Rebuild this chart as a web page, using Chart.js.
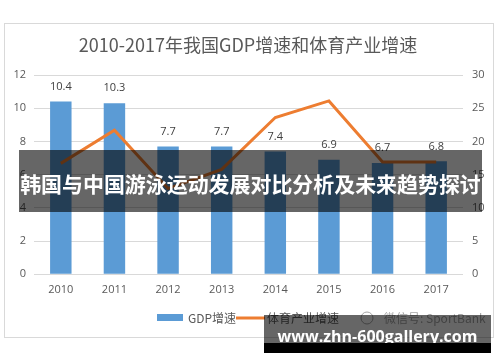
<!DOCTYPE html>
<html>
<head>
<meta charset="utf-8">
<script src="https://cdn.jsdelivr.net/npm/chart.js@4.4.1/dist/chart.umd.min.js"></script>
<style>
  html,body{margin:0;padding:0;background:#fff;}
  #wrap{position:relative;width:500px;height:362px;overflow:hidden;}
  #c{position:absolute;left:0;top:0;}
  .banner{position:absolute;left:19px;top:150px;width:463px;height:62px;background:rgba(0,0,0,0.6);
    color:#fff;font:bold 21px "Noto Sans CJK SC",sans-serif;text-align:center;line-height:66px;white-space:nowrap;}
  .banner span{display:inline-block;}
  .wm{position:absolute;left:264px;top:315px;width:227px;height:28px;background:rgba(0,0,0,0.6);
    color:#fff;font:bold 16px "Open Sans","Noto Sans",sans-serif;text-align:center;line-height:42px;white-space:nowrap;}
  .wmb{position:absolute;left:264px;top:343px;width:227px;height:10px;background:#000;}
</style>
</head>
<body>
<div id="wrap">
  <canvas id="c" width="500" height="362"></canvas>
  <div class="banner"><span id="bt">韩国与中国游泳运动发展对比分析及未来趋势探讨</span></div>
  <div class="wm">www.zhn-600gallery.com</div>
  <div class="wmb"></div>
</div>
<script>
const years = ['2010','2011','2012','2013','2014','2015','2016','2017'];
const gdpGrowth = [10.4, 10.3, 7.7, 7.7, 7.4, 6.9, 6.7, 6.8];
const sportsGrowth = [16.7, 21.7, 12.9, 15.8, 23.6, 26.1, 16.9, 16.9];
const titleText = '2010-2017年我国GDP增速和体育产业增速';
const legendLabels = ['GDP增速', '体育产业增速'];
const wechatText = '微信号: SportBank';

// fit banner text to the banner width
(function(){
  const bt = document.getElementById('bt');
  const w = bt.getBoundingClientRect().width;
  const fs = 21 * 461 / w;
  bt.parentNode.style.fontSize = fs.toFixed(2) + 'px';
})();

const BLUE = '#5b9bd5', ORANGE = '#ed7d31', GRAY = '#595959';
const CJK = '"Noto Sans CJK SC", "Open Sans", sans-serif';

const decor = {
  id: 'decor',
  beforeDraw(chart) {
    const ctx = chart.ctx;
    ctx.save();
    ctx.fillStyle = '#fff';
    ctx.fillRect(0, 0, chart.width, chart.height);
    ctx.strokeStyle = '#d9d9d9';
    ctx.lineWidth = 1;
    ctx.strokeRect(4.5, 23.5, 489, 314);
    ctx.fillStyle = GRAY;
    ctx.font = '18px ' + CJK;
    ctx.textAlign = 'center';
    ctx.textBaseline = 'middle';
    ctx.fillText(titleText, 248, 45);
    ctx.restore();
  },
  afterDraw(chart) {
    const ctx = chart.ctx;
    ctx.save();
    const meta = chart.getDatasetMeta(0);
    ctx.fillStyle = '#404040';
    ctx.font = '11px "Open Sans", sans-serif';
    ctx.textAlign = 'center';
    ctx.textBaseline = 'middle';
    meta.data.forEach((bar, i) => {
      ctx.fillText(gdpGrowth[i].toFixed(1), bar.x, bar.y - 15);
    });
    const ly = 318;
    ctx.fillStyle = BLUE;
    ctx.fillRect(157, 314, 26, 7);
    ctx.fillStyle = GRAY;
    ctx.font = '12px ' + CJK;
    ctx.textAlign = 'left';
    ctx.fillText(legendLabels[0], 188, ly);
    ctx.strokeStyle = ORANGE;
    ctx.lineWidth = 3;
    ctx.beginPath(); ctx.moveTo(236, ly); ctx.lineTo(265, ly); ctx.stroke();
    ctx.fillText(legendLabels[1], 267, ly);
    ctx.fillStyle = '#a6a6a6';
    ctx.fillText(wechatText, 384, ly);
    ctx.strokeStyle = '#a6a6a6';
    ctx.lineWidth = 1;
    ctx.beginPath(); ctx.arc(367, ly, 6, 0, Math.PI * 2); ctx.stroke();
    ctx.restore();
  }
};

new Chart(document.getElementById('c'), {
  type: 'bar',
  data: {
    labels: years,
    datasets: [
      { label: legendLabels[0], data: gdpGrowth, backgroundColor: BLUE, yAxisID: 'y',
        categoryPercentage: 1, barPercentage: 0.4, order: 2 },
      { type: 'line', label: legendLabels[1], data: sportsGrowth, borderColor: ORANGE,
        borderWidth: 3, pointRadius: 0, tension: 0, yAxisID: 'y1', order: 1 }
    ]
  },
  options: {
    responsive: false,
    animation: false,
    devicePixelRatio: 1,
    layout: { padding: { top: 75, left: 0, right: 0, bottom: 57.7 } },
    plugins: { legend: { display: false }, title: { display: false }, tooltip: { enabled: false } },
    scales: {
      x: {
        grid: { display: false, drawTicks: false },
        border: { display: false },
        ticks: { color: GRAY, font: { size: 11, family: '"Open Sans", sans-serif' }, padding: 9 },
        afterFit(s) { s.height = 30; }
      },
      y: {
        position: 'left', min: 0, max: 12,
        ticks: { stepSize: 2, color: GRAY, font: { size: 11, family: '"Open Sans", sans-serif' }, padding: 8 },
        grid: { color: '#d9d9d9', drawTicks: false },
        border: { display: false },
        afterFit(s) { s.width = 34; }
      },
      y1: {
        position: 'right', min: 0, max: 30,
        ticks: { stepSize: 5, color: GRAY, font: { size: 11, family: '"Open Sans", sans-serif' }, padding: 9 },
        grid: { display: false, drawTicks: false },
        border: { display: false },
        afterFit(s) { s.width = 37; }
      }
    }
  },
  plugins: [decor]
});
</script>
</body>
</html>
